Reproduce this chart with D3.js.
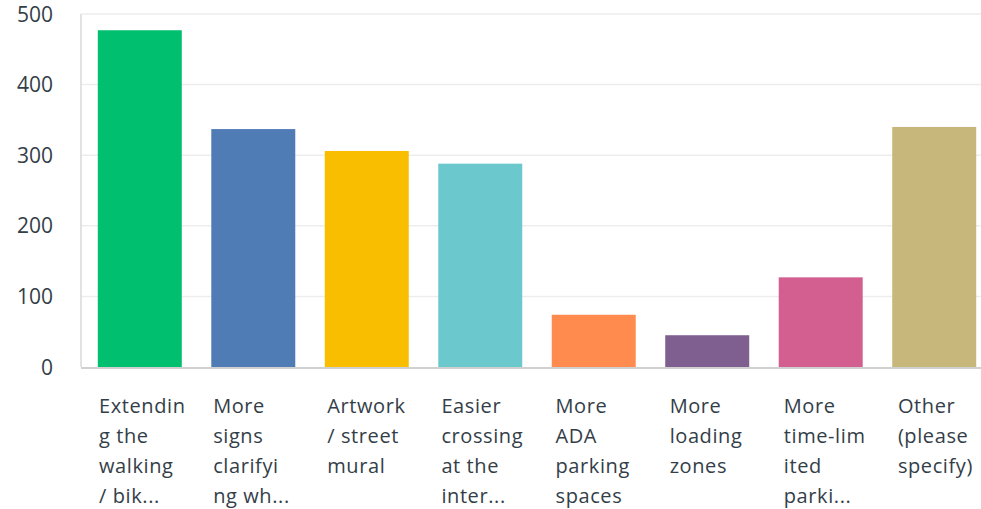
<!DOCTYPE html>
<html>
<head>
<meta charset="utf-8">
<script src="https://cdn.jsdelivr.net/npm/d3@7"></script>
<style>
  body { margin: 0; background: #fff; }
  text { font-family: "Open Sans", sans-serif; fill: #333e48; }
</style>
</head>
<body>
<div id="chart"></div>
<script>
var categories = ["ext", "signs", "art", "cross", "ada", "load", "time", "other"];
var labelLines = [
  ["Extendin", "g the", "walking", "/ bik..."],
  ["More", "signs", "clarifyi", "ng wh..."],
  ["Artwork", "/ street", "mural"],
  ["Easier", "crossing", "at the", "inter..."],
  ["More", "ADA", "parking", "spaces"],
  ["More", "loading", "zones"],
  ["More", "time-lim", "ited", "parki..."],
  ["Other", "(please", "specify)"]
];
var values = [477, 337, 306, 288, 74, 45, 127, 340];
var colors = ["#00bf6f", "#507cb6", "#f9be00", "#6bc8cd", "#ff8b4f", "#7f5f90", "#d25f90", "#c8b77a"];
var yTicks = [0, 100, 200, 300, 400, 500];

var width = 981, height = 509;
var plotLeft = 81, plotTop = 14, plotBottom = 367;

var svg = d3.select("#chart").append("svg")
    .attr("width", width)
    .attr("height", height);

var x = d3.scaleBand()
    .domain(categories)
    .range([plotLeft, 993])
    .paddingInner(0.26)
    .paddingOuter(0.148);

// label columns are spaced a little wider than the bars
var xLabel = d3.scaleBand()
    .domain(categories)
    .range([99, 1012]);

var y = d3.scaleLinear()
    .domain([0, 500])
    .range([plotBottom, plotTop]);

// gridlines
svg.append("g")
  .selectAll("line")
  .data(yTicks.filter(function(d) { return d > 0; }))
  .enter().append("line")
    .attr("x1", plotLeft)
    .attr("x2", width)
    .attr("y1", function(d) { return y(d); })
    .attr("y2", function(d) { return y(d); })
    .attr("stroke", "#ededed")
    .attr("stroke-width", 1.5);

// left axis line
svg.append("line")
    .attr("x1", plotLeft).attr("x2", plotLeft)
    .attr("y1", y(500)).attr("y2", y(0))
    .attr("stroke", "#d9d9d9")
    .attr("stroke-width", 1.5);

// y tick labels
svg.append("g")
  .selectAll("text")
  .data(yTicks)
  .enter().append("text")
    .attr("x", 53)
    .attr("y", function(d) { return y(d); })
    .attr("dy", "0.36em")
    .attr("text-anchor", "end")
    .attr("font-size", "21px")
    .text(function(d) { return d; });

// bars
svg.append("g")
  .selectAll("rect")
  .data(values)
  .enter().append("rect")
    .attr("x", function(d, i) { return x(categories[i]); })
    .attr("y", function(d) { return y(d); })
    .attr("width", x.bandwidth())
    .attr("height", function(d) { return y(0) - y(d); })
    .attr("fill", function(d, i) { return colors[i]; });

// baseline
svg.append("line")
    .attr("x1", plotLeft).attr("x2", width)
    .attr("y1", y(0) + 1).attr("y2", y(0) + 1)
    .attr("stroke", "#d0d0d0")
    .attr("stroke-width", 2);

// category labels
var labels = svg.append("g")
  .selectAll("text")
  .data(labelLines)
  .enter().append("text")
    .attr("x", function(d, i) { return xLabel(categories[i]); })
    .attr("y", 413)
    .attr("font-size", "20px")
    .style("letter-spacing", "0.6px");

labels.selectAll("tspan")
  .data(function(d) { return d; })
  .enter().append("tspan")
    .attr("x", function() { return d3.select(this.parentNode).attr("x"); })
    .attr("dy", function(d, j) { return j === 0 ? 0 : 30; })
    .text(function(d) { return d; });
</script>
</body>
</html>
